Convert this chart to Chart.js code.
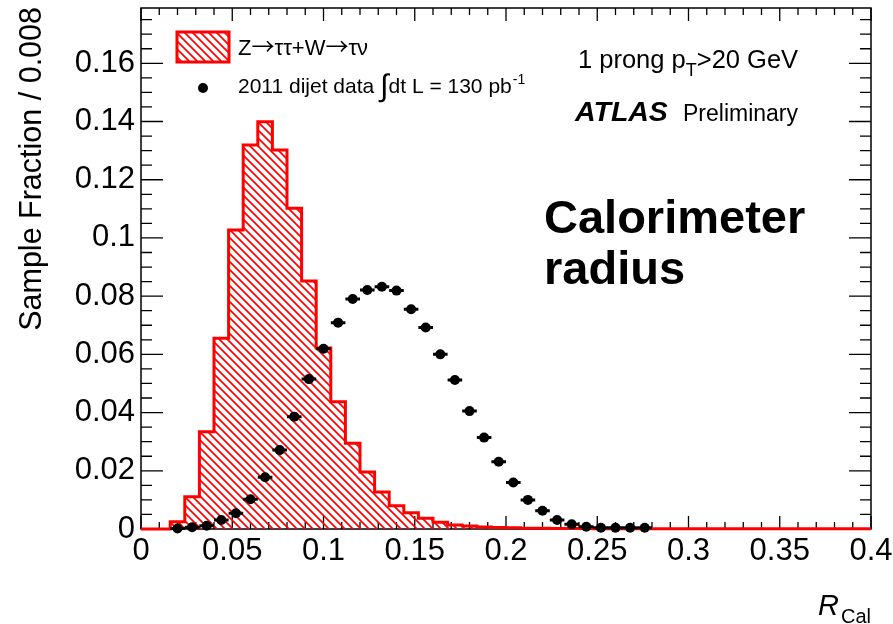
<!DOCTYPE html>
<html>
<head>
<meta charset="utf-8">
<title>Calorimeter radius</title>
<script src="https://cdn.jsdelivr.net/npm/chart.js@4/dist/chart.umd.min.js"></script>
<style>
  html, body { margin: 0; padding: 0; background: #fff; }
  #wrap { width: 893px; height: 624px; }
</style>
</head>
<body>
<div id="wrap"><canvas id="rcal" width="893" height="624"></canvas></div>
<script>
// R_Cal distributions, normalised per 0.008 bin
const binWidth = 0.008;
const nBins = 50;

// Z->tautau + W->taunu signal MC, one value per bin from 0 to 0.4
const signalFraction = [
  0, 0, 0.0025, 0.0111, 0.0334, 0.0655, 0.1027, 0.1319, 0.1399, 0.1302,
  0.1102, 0.0852, 0.0622, 0.0437, 0.0295, 0.0196, 0.0127, 0.0080, 0.0056, 0.0037,
  0.0023, 0.0014, 0.0010, 0.0007, 0.0005, 0.0004, 0.0003, 0.0003, 0.0002, 0.0002,
  0.0002, 0.0001, 0.0001, 0.0001, 0.0001, 0.0001, 0.0001, 0.0001, 0.0001, 0.0001,
  0.0001, 0.0001, 0.0001, 0.0001, 0.0001, 0.0001, 0.0001, 0.0001, 0.0001, 0.0001
];

// 2011 dijet data, bins 2..34
const dataFirstBin = 2;
const dataFraction = [
  0.0002, 0.0006, 0.0011, 0.0031, 0.0054, 0.0102, 0.0178, 0.0271, 0.0386, 0.0515,
  0.0619, 0.0709, 0.0790, 0.0821, 0.0832, 0.0819, 0.0755, 0.0692, 0.0600, 0.0512,
  0.0405, 0.0314, 0.0231, 0.0160, 0.0100, 0.0063, 0.0031, 0.0016, 0.0008, 0.0004,
  0.0004, 0.0004, 0.0004
];

const xTickStep = 0.05;
const yTickStep = 0.02;
const xMax = nBins * binWidth;
const yMax = 0.179;

const FONT = "'Liberation Sans', Arial, Helvetica, sans-serif";
const ARROW_FONT = "'Noto Sans CJK SC', 'DejaVu Sans', sans-serif";
const RED = '#ff0000';

// step outline: left edge of every bin, plus the closing right edge
const histPoints = signalFraction.map((v, i) => ({ x: i * binWidth, y: v }));
histPoints.push({ x: xMax, y: signalFraction[nBins - 1] });

const dataPoints = dataFraction.map((v, i) => ({ x: (dataFirstBin + i + 0.5) * binWidth, y: v }));

// diagonal red hatch for the signal histogram
function makeHatch() {
  const s = 8;
  const c = document.createElement('canvas');
  c.width = s; c.height = s;
  const g = c.getContext('2d');
  g.strokeStyle = RED;
  g.lineWidth = 1.7;
  g.beginPath();
  g.moveTo(-1, -1); g.lineTo(s + 1, s + 1);
  g.moveTo(-1, s - 1); g.lineTo(1, s + 1);
  g.moveTo(s - 1, -1); g.lineTo(s + 1, 1);
  g.stroke();
  return g.createPattern(c, 'repeat');
}
const hatch = makeHatch();

function drawRuns(ctx, x, y, runs) {
  for (const r of runs) {
    ctx.font = r.font;
    ctx.fillText(r.text, x, y + (r.dy || 0));
    x += ctx.measureText(r.text).width + (r.gap || 0);
  }
  return x;
}

const atlasDecor = {
  id: 'atlasDecor',
  beforeDatasetsDraw(chart) {
    const { ctx, chartArea: a, scales: { x, y } } = chart;
    ctx.save();
    ctx.strokeStyle = '#000';
    ctx.lineWidth = 1.3;
    ctx.beginPath();
    // x ticks, inward on bottom and top
    for (let i = 0; i <= 40; i++) {
      const px = x.getPixelForValue(i * 0.01);
      const len = i % 5 === 0 ? 13 : 7;
      ctx.moveTo(px, a.bottom); ctx.lineTo(px, a.bottom - len);
      ctx.moveTo(px, a.top); ctx.lineTo(px, a.top + len);
    }
    // y ticks, inward on left and right
    for (let i = 0; i * 0.005 <= yMax; i++) {
      const py = y.getPixelForValue(i * 0.005);
      const len = i % 4 === 0 ? 22 : 11;
      ctx.moveTo(a.left, py); ctx.lineTo(a.left + len, py);
      ctx.moveTo(a.right, py); ctx.lineTo(a.right - len, py);
    }
    ctx.stroke();
    ctx.lineWidth = 1.5;
    ctx.strokeRect(a.left, a.top, a.right - a.left, a.bottom - a.top);
    ctx.restore();
  },
  afterDatasetsDraw(chart) {
    // horizontal error bars on the data points
    const { ctx, scales: { x, y } } = chart;
    ctx.save();
    ctx.strokeStyle = '#000';
    ctx.lineWidth = 3;
    ctx.beginPath();
    for (const p of dataPoints) {
      const py = y.getPixelForValue(p.y);
      ctx.moveTo(x.getPixelForValue(p.x - binWidth / 2), py);
      ctx.lineTo(x.getPixelForValue(p.x + binWidth / 2), py);
    }
    ctx.stroke();
    ctx.restore();
  },
  afterDraw(chart) {
    const { ctx } = chart;
    ctx.save();
    ctx.fillStyle = '#000';
    ctx.textBaseline = 'alphabetic';

    // axis titles
    ctx.save();
    ctx.translate(41, 7);
    ctx.rotate(-Math.PI / 2);
    ctx.textAlign = 'right';
    ctx.font = `30.5px ${FONT}`;
    ctx.fillText('Sample Fraction / 0.008', 0, 0);
    ctx.restore();

    ctx.font = `italic 29px ${FONT}`;
    const rW = ctx.measureText('R').width;
    ctx.font = `20px ${FONT}`;
    const calW = ctx.measureText('Cal').width;
    const rx = 871 - calW - rW - 2;
    drawRuns(ctx, rx, 615, [
      { text: 'R', font: `italic 29px ${FONT}`, gap: 2 },
      { text: 'Cal', font: `20px ${FONT}`, dy: 8 }
    ]);

    // legend
    ctx.fillStyle = hatch;
    ctx.fillRect(177, 32, 52, 30);
    ctx.strokeStyle = RED;
    ctx.lineWidth = 3;
    ctx.strokeRect(177, 32, 52, 30);
    ctx.fillStyle = '#000';
    drawRuns(ctx, 238, 55, [
      { text: 'Z', font: `22px ${FONT}` },
      { text: '\u2192', font: `23px ${ARROW_FONT}`, dy: 0 },
      { text: '\u03c4\u03c4+W', font: `22px ${FONT}` },
      { text: '\u2192', font: `23px ${ARROW_FONT}`, dy: 0 },
      { text: '\u03c4\u03bd', font: `22px ${FONT}` }
    ]);
    ctx.beginPath();
    ctx.arc(203, 88, 5, 0, Math.PI * 2);
    ctx.fill();
    drawRuns(ctx, 238, 93, [
      { text: '2011 dijet data ', font: `21px ${FONT}` },
      { text: '\u222b', font: `31px ${FONT}`, dy: 3 },
      { text: 'dt L = 130 pb', font: `21px ${FONT}`, gap: 1 },
      { text: '-1', font: `14px ${FONT}`, dy: -9 }
    ]);

    // selection and experiment labels
    drawRuns(ctx, 578, 68, [
      { text: '1 prong p', font: `25.5px ${FONT}` },
      { text: 'T', font: `18px ${FONT}`, dy: 8 },
      { text: '>20 GeV', font: `25.5px ${FONT}` }
    ]);
    ctx.font = `italic bold 28.5px ${FONT}`;
    ctx.fillText('ATLAS', 575, 121);
    ctx.font = `23px ${FONT}`;
    ctx.fillText('Preliminary', 683, 121);

    ctx.font = `bold 47px ${FONT}`;
    ctx.fillText('Calorimeter', 544, 233);
    ctx.fillText('radius', 544, 284);
    ctx.restore();
  }
};

const tickFmt = v => String(+v.toFixed(3));

new Chart(document.getElementById('rcal'), {
  type: 'scatter',
  data: {
    datasets: [
      {
        label: '2011 dijet data',
        data: dataPoints,
        pointRadius: 5,
        pointHoverRadius: 5,
        pointBackgroundColor: '#000',
        pointBorderColor: '#000',
        pointBorderWidth: 0,
        showLine: false,
        clip: false,
        order: 0
      },
      {
        type: 'line',
        label: 'Z\u2192\u03c4\u03c4+W\u2192\u03c4\u03bd',
        data: histPoints,
        stepped: true,
        borderColor: RED,
        borderWidth: 3,
        backgroundColor: hatch,
        fill: 'origin',
        pointRadius: 0,
        tension: 0,
        clip: 2,
        order: 1
      }
    ]
  },
  options: {
    responsive: false,
    animation: false,
    devicePixelRatio: 1,
    layout: { padding: { top: 8, right: 22, left: 0, bottom: 0 } },
    plugins: { legend: { display: false }, tooltip: { enabled: false } },
    scales: {
      x: {
        type: 'linear',
        min: 0,
        max: xMax,
        grid: { display: false, drawTicks: false },
        border: { display: false },
        ticks: {
          stepSize: xTickStep,
          autoSkip: false,
          maxRotation: 0,
          color: '#000',
          padding: 4,
          font: { family: FONT, size: 31 },
          callback: tickFmt
        },
        afterFit: s => { s.height = 95; s.paddingLeft = 0; s.paddingRight = 0; }
      },
      y: {
        min: 0,
        max: yMax,
        grid: { display: false, drawTicks: false },
        border: { display: false },
        ticks: {
          stepSize: yTickStep,
          includeBounds: false,
          autoSkip: false,
          color: '#000',
          padding: 6,
          font: { family: FONT, size: 31 },
          callback: tickFmt
        },
        afterFit: s => { s.width = 141; s.paddingTop = 0; s.paddingBottom = 0; }
      }
    }
  },
  plugins: [atlasDecor]
});
</script>
</body>
</html>
